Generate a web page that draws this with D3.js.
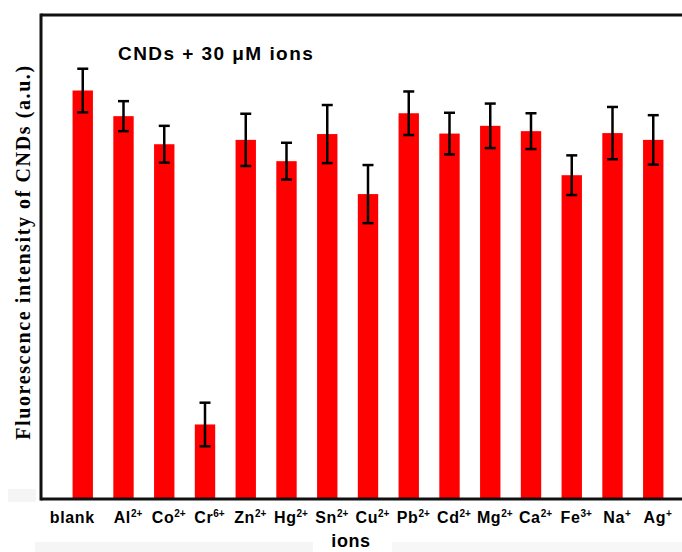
<!DOCTYPE html>
<html>
<head>
<meta charset="utf-8">
<script src="https://cdn.jsdelivr.net/npm/d3@7"></script>
<style>
  body { margin: 0; background: #fff; }
  svg { display: block; }
</style>
</head>
<body>
<div id="chart"></div>
<script>
// ion names, split into base and charge (superscript)
var ions = ["blank", "Al", "Co", "Cr", "Zn", "Hg", "Sn", "Cu", "Pb", "Cd", "Mg", "Ca", "Fe", "Na", "Ag"];
var charges = ["", "2+", "2+", "6+", "2+", "2+", "2+", "2+", "2+", "2+", "2+", "2+", "3+", "+", "+"];
var intensity = [844, 791, 733, 154, 742, 698, 754, 630, 797, 755, 771, 760, 669, 756, 742];
var errors = [45, 31, 38, 45, 54, 38, 60, 60, 45, 43, 46, 37, 41, 54, 51];

var W = 682, H = 552;
var mLeft = 41, mTop = 15, mBottom = 499;

var svg = d3.select("#chart").append("svg")
    .attr("width", W)
    .attr("height", H);

// faint scan marks under the axis
svg.append("rect").attr("x", 35).attr("y", 542).attr("width", 278).attr("height", 10).attr("fill", "#f5f5f5");
svg.append("rect").attr("x", 392).attr("y", 542).attr("width", 290).attr("height", 10).attr("fill", "#f7f7f7");
svg.append("rect").attr("x", 8).attr("y", 489).attr("width", 28).attr("height", 13).attr("fill", "#f5f5f5");

var x = d3.scalePoint()
    .domain(ions)
    .range([42, 694])
    .padding(1);

var y = d3.scaleLinear()
    .domain([0, 1000])
    .range([mBottom, mTop]);

var barW = x.step() * 0.5;

var data = ions.map((d, i) => ({ name: d, charge: charges[i], v: intensity[i], e: errors[i] }));

svg.append("g")
    .selectAll("rect")
    .data(data)
    .join("rect")
    .attr("x", d => x(d.name) - barW / 2)
    .attr("y", d => y(d.v))
    .attr("width", barW)
    .attr("height", d => y(0) - y(d.v))
    .attr("fill", "#ff0000");

// error bars
var err = svg.append("g")
    .attr("stroke", "#000")
    .attr("stroke-width", 2.5)
    .selectAll("g")
    .data(data)
    .join("g");

err.append("line")
    .attr("x1", d => x(d.name)).attr("x2", d => x(d.name))
    .attr("y1", d => y(d.v + d.e)).attr("y2", d => y(d.v - d.e));
err.append("line")
    .attr("x1", d => x(d.name) - 5.5).attr("x2", d => x(d.name) + 5.5)
    .attr("y1", d => y(d.v + d.e)).attr("y2", d => y(d.v + d.e));
err.append("line")
    .attr("x1", d => x(d.name) - 5.5).attr("x2", d => x(d.name) + 5.5)
    .attr("y1", d => y(d.v - d.e)).attr("y2", d => y(d.v - d.e));

// frame: left, top and bottom lines (right side is cut off)
var frame = svg.append("g").attr("stroke", "#111").attr("stroke-width", 3);
frame.append("line").attr("x1", mLeft).attr("x2", W).attr("y1", mTop).attr("y2", mTop);
frame.append("line").attr("x1", mLeft).attr("x2", W).attr("y1", mBottom).attr("y2", mBottom);
frame.append("line").attr("x1", mLeft).attr("x2", mLeft).attr("y1", mTop - 1.5).attr("y2", mBottom + 1.5);

// tick labels with superscript charges
var xAxis = svg.append("g")
    .attr("transform", `translate(0,${mBottom})`)
    .call(d3.axisBottom(x).tickSize(0).tickFormat(""));
xAxis.select(".domain").remove();

xAxis.selectAll(".tick text")
    .attr("y", 24)
    .attr("dy", 0)
    .attr("x", (d, i) => i === 0 ? -11 : 4)
    .attr("fill", "#000")
    .style("font-family", "Arial, 'Liberation Sans', sans-serif")
    .style("font-weight", "bold")
    .style("font-size", "16px")
    .style("letter-spacing", "0.6px")
    .each(function (name, i) {
        var t = d3.select(this);
        t.append("tspan").text(name);
        if (charges[i])
            t.append("tspan")
                .attr("dy", -6)
                .style("font-size", "10px")
                .style("letter-spacing", "0px")
                .text(charges[i]);
    });

svg.append("text")
    .attr("x", 351)
    .attr("y", 547)
    .attr("text-anchor", "middle")
    .style("font-family", "Arial, 'Liberation Sans', sans-serif")
    .style("font-weight", "bold")
    .style("font-size", "18px")
    .style("letter-spacing", "0.6px")
    .text("ions");

svg.append("text")
    .attr("x", 118)
    .attr("y", 60)
    .style("font-family", "Arial, 'Liberation Sans', sans-serif")
    .style("font-weight", "bold")
    .style("font-size", "19px")
    .style("letter-spacing", "1.45px")
    .text("CNDs + 30 \u03bcM ions");

svg.append("text")
    .attr("transform", "translate(30,252) rotate(-90)")
    .attr("text-anchor", "middle")
    .style("font-family", "'Times New Roman', 'Liberation Serif', serif")
    .style("font-weight", "bold")
    .style("font-size", "20px")
    .style("letter-spacing", "1.6px")
    .text("Fluorescence intensity of CNDs (a.u.)");
</script>
</body>
</html>
